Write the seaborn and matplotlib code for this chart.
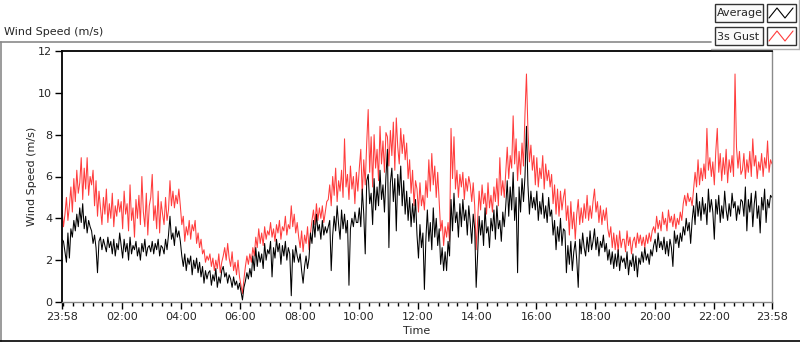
import numpy as np
import pandas as pd
import seaborn as sns
import matplotlib.pyplot as plt
from matplotlib.lines import Line2D
from matplotlib.patches import Rectangle

# wind readings, 3 min apart, starting 23:58 (one row of 20 = one hour)
gust = [
    4.4, 3.6, 4.2, 5.0, 3.9, 4.6, 5.5, 4.3, 5.9, 4.8, 6.3, 5.2, 5.7, 6.9, 4.9, 6.4, 5.4, 6.9, 5.1, 6.0,
    5.6, 6.3, 4.6, 5.8, 4.1, 5.3, 4.5, 3.7, 5.0, 4.2, 5.4, 3.8, 4.7, 4.0, 5.2, 3.6, 4.6, 4.1, 4.9, 4.3,
    4.8, 3.5, 5.3, 4.2, 4.7, 3.4, 5.6, 3.9, 4.5, 3.1, 4.9, 4.0, 5.1, 3.7, 6.0, 4.3, 3.6, 5.2, 3.2, 4.6,
    5.0, 6.1, 3.9, 4.6, 3.5, 5.3, 3.3, 4.8, 4.2, 3.7, 5.0, 3.9, 4.4, 5.8, 4.6, 5.3, 4.5, 5.1, 4.7, 5.4,
    4.6, 3.7, 4.1, 2.9, 3.6, 3.2, 3.9, 3.0, 3.7, 3.4, 3.9, 2.8, 3.3, 2.6, 3.0, 2.3, 2.5, 1.9, 2.2, 2.0,
    2.3, 1.7, 2.1, 1.5, 2.0, 1.6, 2.3, 1.4, 1.9, 2.2, 2.6, 2.0, 2.8, 2.1, 1.7, 2.4, 1.5, 1.9, 1.3, 2.0,
    1.2, 0.8, 0.4, 1.1, 1.7, 2.2, 1.8, 2.3, 1.9, 2.6, 2.2, 3.1, 2.6, 3.5, 2.8, 3.3, 2.7, 3.6, 3.0, 3.4,
    3.2, 3.8, 3.1, 3.5, 2.9, 3.7, 3.3, 3.9, 3.0, 3.6, 3.4, 4.1, 3.2, 3.7, 3.5, 4.6, 3.6, 4.2, 3.3, 3.8,
    3.1, 2.6, 3.4, 2.4, 3.2, 2.8, 3.6, 2.5, 3.3, 3.9, 4.4, 3.7, 4.7, 3.9, 4.5, 4.0, 4.6, 3.8, 4.3, 4.8,
    4.9, 5.6, 4.6, 6.0, 5.1, 6.4, 4.8, 5.8, 5.3, 6.3, 5.0, 7.8, 5.5, 6.1, 4.9, 6.5, 5.4, 6.0, 4.7, 6.2,
    5.3, 6.4, 7.3, 5.1, 6.8, 5.6, 7.6, 9.2, 6.2, 7.9, 5.5, 8.0, 6.4, 7.3, 5.8, 8.4, 6.6, 7.7, 6.2, 8.1,
    7.9, 6.5, 8.2, 7.0, 8.6, 6.3, 8.8, 7.4, 6.6, 8.3, 7.1, 8.0, 6.8, 7.6, 5.9, 6.8, 5.2, 6.3, 4.6, 5.8,
    5.4, 4.3, 5.7, 4.6, 5.1, 4.4, 5.8, 5.0, 6.8, 5.3, 7.1, 5.6, 6.5, 5.0, 6.2, 4.8, 3.4, 3.9, 2.7, 3.6,
    3.1, 3.8, 2.9, 8.3, 5.9, 7.9, 5.4, 6.3, 5.0, 6.1, 5.5, 6.2, 4.9, 5.9, 5.3, 6.0, 5.6, 4.8, 5.7, 4.6,
    2.5, 3.9, 5.3, 4.4, 5.6, 4.7, 5.2, 4.2, 5.7, 4.5, 5.1, 4.3, 5.5, 4.8, 5.9, 4.6, 6.9, 5.1, 5.8, 5.0,
    6.2, 7.4, 5.9, 7.0, 6.4, 8.9, 6.6, 7.8, 5.8, 7.2, 6.1, 7.6, 6.5, 9.0, 10.9, 8.2, 6.7, 7.5, 6.3, 7.0,
    5.6, 6.9, 5.5, 6.4, 5.9, 7.0, 5.4, 6.6, 5.8, 6.3, 5.5, 6.1, 4.7, 5.6, 4.2, 5.4, 4.1, 5.3, 4.4, 5.0,
    5.4, 3.9, 4.6, 3.2, 4.8, 3.5, 4.3, 3.0, 4.2, 4.9, 3.7, 4.5, 3.8, 4.7, 4.0, 5.1, 3.9, 4.6, 4.0, 4.8,
    5.4, 4.3, 4.8, 3.8, 4.6, 3.7, 4.4, 3.9, 4.5, 3.5, 3.1, 3.6, 2.6, 3.3, 2.5, 3.2, 2.4, 3.4, 2.6, 3.0,
    3.0, 2.4, 3.4, 2.7, 3.1, 2.3, 2.9, 3.1, 2.6, 3.3, 2.8, 3.2, 2.7, 3.1, 2.6, 3.2, 2.8, 3.3, 2.9, 3.4,
    3.6, 3.3, 4.1, 3.5, 3.9, 3.4, 4.3, 3.7, 4.0, 3.4, 4.4, 3.8, 4.1, 3.6, 4.2, 3.5, 4.0, 3.7, 4.3, 3.9,
    4.7, 5.1, 4.6, 5.2, 4.8, 5.0, 4.6, 5.4, 6.2, 5.5, 6.8, 5.6, 6.4, 5.8, 6.6, 5.9, 8.3, 6.3, 6.9, 6.0,
    6.7, 5.6, 7.2, 8.3, 6.2, 7.1, 5.8, 6.9, 6.1, 7.3, 5.7, 6.8, 6.2, 7.0, 6.0, 10.9, 7.4, 6.4, 7.2, 6.1,
    6.3, 7.1, 5.9, 6.8, 6.2, 7.2, 6.0, 7.8, 6.5, 7.0, 5.9, 6.7, 6.3, 7.1, 6.0, 6.9, 6.4, 7.7, 6.2, 6.8,
    6.6,
]
average = [
    3.0, 2.9, 2.4, 1.9, 3.3, 2.1, 3.5, 3.1, 3.9, 3.4, 4.2, 3.6, 4.5, 3.8, 4.7, 3.5, 4.1, 3.3, 3.9, 3.6,
    3.4, 2.8, 3.2, 2.6, 1.4, 2.9, 3.1, 2.5, 3.0, 2.7, 2.4, 3.1, 2.6, 2.9, 2.3, 3.0, 2.2, 2.8, 2.5, 3.3,
    2.7, 2.1, 3.0, 2.4, 2.8, 2.0, 3.1, 2.3, 2.7, 2.5, 2.9, 2.2, 2.6, 2.0, 2.8, 2.4, 3.0, 2.2, 2.6, 2.7,
    2.4, 2.9, 2.3, 2.8, 2.5, 3.0, 2.2, 2.7, 2.6, 2.3, 3.0, 2.5, 3.2, 4.1, 3.0, 3.3, 2.7, 3.6, 3.1, 3.4,
    2.9, 2.2, 1.7, 2.3, 1.5, 2.1, 1.8, 2.2, 1.3, 2.0, 1.6, 2.1, 1.4, 1.9, 1.2, 1.7, 0.9, 1.5, 1.1, 1.4,
    1.5, 0.8, 1.3, 1.0, 1.6, 0.7, 1.2, 0.9, 1.5, 1.7, 1.2, 1.4, 0.9, 1.3, 1.1, 0.7, 1.2, 0.8, 1.0, 0.6,
    0.9, 0.5, 0.1, 0.7, 1.0, 1.4, 1.1, 1.6, 1.2, 2.2, 1.5, 2.6, 1.7, 2.4, 1.9, 2.3, 1.6, 2.8, 2.0, 2.5,
    2.3, 2.9, 1.2, 2.6, 2.1, 3.0, 2.4, 2.8, 1.8, 2.7, 2.2, 2.9, 2.0, 2.6, 2.3, 0.3, 2.5, 1.9, 2.7, 2.2,
    1.9, 2.3, 1.5, 0.9, 1.7, 2.2, 1.6, 2.1, 3.3, 2.8, 3.9, 3.1, 4.2, 3.4, 3.7, 3.0, 3.9, 3.2, 3.6, 3.3,
    3.6, 3.9, 1.5, 3.2, 4.1, 3.4, 4.6, 3.7, 3.0, 4.4, 3.5, 4.2, 3.3, 3.9, 0.8, 3.5, 4.0, 3.6, 4.3, 3.8,
    3.8, 4.5, 3.6, 5.4, 4.2, 2.3, 5.8, 6.1, 4.7, 5.2, 3.7, 5.9, 4.4, 5.5, 4.6, 6.3, 4.9, 5.6, 4.3, 6.0,
    7.3, 2.6, 5.7, 6.4, 4.8, 5.9, 3.4, 6.1, 5.1, 6.5, 4.6, 5.8, 4.2, 5.3, 3.9, 5.0, 3.6, 4.7, 3.8, 4.9,
    3.2, 2.1, 3.7, 2.6, 3.3, 0.6, 3.0, 4.4, 2.9, 3.8, 2.5, 4.5, 3.1, 4.0, 2.7, 3.5, 1.8, 2.6, 1.5, 2.4,
    1.5, 2.9, 2.2, 4.9, 3.4, 5.2, 3.8, 4.3, 3.1, 4.7, 3.6, 4.9, 3.9, 4.4, 3.2, 4.6, 3.8, 2.8, 4.2, 3.5,
    0.7, 2.3, 4.1, 3.2, 3.9, 2.7, 4.5, 3.3, 3.6, 2.6, 4.0, 3.4, 4.4, 3.0, 4.6, 3.5, 3.9, 2.9, 4.3, 3.6,
    4.6, 5.8, 4.1, 5.5, 4.4, 6.2, 3.9, 5.0, 1.4, 5.5, 4.3, 5.9, 4.8, 6.0, 8.4, 5.6, 4.2, 5.3, 4.5, 5.0,
    4.4, 5.3, 3.9, 4.8, 4.2, 5.2, 4.0, 4.6, 3.8, 5.0, 4.1, 4.4, 3.2, 3.9, 2.5, 3.6, 2.9, 4.0, 2.7, 3.5,
    3.4, 1.4, 2.7, 1.8, 2.9, 1.5, 2.4, 2.9, 2.0, 0.7, 3.0, 2.3, 3.3, 2.6, 2.2, 3.1, 2.4, 3.4, 2.5, 2.9,
    3.5, 2.5, 3.1, 2.2, 2.9, 2.6, 3.2, 2.4, 2.8, 2.0, 2.5, 1.8, 2.4, 1.6, 2.3, 1.7, 2.5, 1.5, 2.2, 1.9,
    2.1, 1.6, 2.4, 1.3, 2.0, 1.7, 2.3, 1.5, 2.2, 1.2, 2.1, 1.8, 2.4, 1.9, 2.6, 2.0, 2.3, 1.8, 2.5, 2.2,
    2.7, 3.0, 2.4, 3.3, 2.6, 2.9, 2.5, 3.1, 2.3, 2.9, 2.2, 3.0, 2.6, 1.7, 3.4, 2.8, 3.2, 2.6, 3.3, 2.9,
    3.6, 3.2, 4.0, 3.4, 3.8, 2.8, 3.9, 4.6, 3.7, 5.2, 4.1, 4.8, 3.9, 5.0, 4.2, 4.7, 3.7, 5.4, 4.3, 4.9,
    4.3, 3.0, 4.9, 4.2, 5.1, 3.8, 4.6, 4.0, 5.3, 4.4, 3.9, 4.7, 4.1, 5.2, 4.5, 4.8, 3.9, 4.6, 4.2, 4.9,
    4.8, 4.1, 5.5, 3.4, 4.9, 4.3, 5.2, 3.6, 4.7, 5.3, 4.0, 4.6, 3.3, 5.0, 4.4, 5.4, 3.8, 4.9, 4.5, 5.1,
    5.0,
]
step_min = 3
tick_minutes = [0, 122, 242, 362, 482, 602, 722, 842, 962, 1082, 1202, 1322, 1440]
tick_labels = ['23:58', '02:00', '04:00', '06:00', '08:00', '10:00', '12:00',
               '14:00', '16:00', '18:00', '20:00', '22:00', '23:58']
y_ticks = [0, 2, 4, 6, 8, 10, 12]

gust_df = pd.DataFrame({'minute': np.arange(len(gust)) * step_min, 'speed': gust})
avg_df = pd.DataFrame({'minute': np.arange(len(average)) * step_min, 'speed': average})

W, H = 800, 342
def fx(x):
    return x / W
def fy(y):
    return 1 - y / H

sns.set_style("white")
plt.rcParams['font.family'] = ['DejaVu Sans']
plt.rcParams['font.size'] = 8

fig = plt.figure(figsize=(8, 3.42), dpi=100)
ax = fig.add_axes([fx(62), fy(302), (772 - 62) / W, (302 - 51) / H])

sns.lineplot(data=gust_df, x='minute', y='speed', ax=ax, color='#ff3c3c', linewidth=0.75)
sns.lineplot(data=avg_df, x='minute', y='speed', ax=ax, color='black', linewidth=0.75)

ax.set_xlim(0, 1440)
ax.set_ylim(0, 12)
ax.set_yticks(y_ticks)
ax.set_xticks(tick_minutes)
ax.set_xticklabels(tick_labels)
ax.set_xticks([m for m in range(2, 1440, 20)], minor=True)
ax.tick_params(axis='both', which='major', direction='out', length=5, width=1,
               color='black', labelsize=8, pad=2, bottom=True, left=True)
ax.tick_params(axis='x', which='minor', direction='out', length=3, width=1,
               color='black', bottom=True)
ax.set_xlabel('Time', fontsize=8, labelpad=3)
ax.set_ylabel('Wind Speed (m/s)', fontsize=8, labelpad=0.5)

for s in ['top', 'left']:
    ax.spines[s].set_color('black')
    ax.spines[s].set_linewidth(1.3)
for s in ['right', 'bottom']:
    ax.spines[s].set_color('#8a8a8a')
    ax.spines[s].set_linewidth(1.0)

# panel frame
fig.add_artist(Line2D([fx(0), fx(711)], [fy(42), fy(42)], color='#8a8a8a', lw=1.2))
fig.add_artist(Line2D([fx(0.5), fx(0.5)], [fy(42), fy(341)], color='#8a8a8a', lw=1.2))
fig.add_artist(Line2D([fx(0), fx(800)], [fy(341), fy(341)], color='black', lw=1.2))
fig.add_artist(Line2D([fx(711), fx(799)], [fy(49), fy(49)], color='#b0b0b0', lw=1.0))
fig.add_artist(Line2D([fx(799), fx(799)], [fy(0), fy(49)], color='#b0b0b0', lw=1.0))

fig.text(fx(4), fy(32), 'Wind Speed (m/s)', fontsize=8, va='center', ha='left')

# legend
legend_items = [('Average', 'black', 4), ('3s Gust', '#ff3c3c', 27)]
for name, col, top in legend_items:
    fig.add_artist(Rectangle((fx(715), fy(top + 18)), 48 / W, 18 / H,
                             transform=fig.transFigure, facecolor='#fafafa',
                             edgecolor='#333333', lw=1.0))
    fig.text(fx(717), fy(top + 9.5), name, fontsize=8, va='center', ha='left')
    fig.add_artist(Rectangle((fx(767), fy(top + 18)), 29 / W, 18 / H,
                             transform=fig.transFigure, facecolor='white',
                             edgecolor='#333333', lw=1.0))
    fig.add_artist(Line2D([fx(769), fx(777), fx(785), fx(793)],
                          [fy(top + 14), fy(top + 4), fy(top + 14), fy(top + 4)],
                          color=col, lw=0.8))

fig.savefig('out.png', dpi=100)
